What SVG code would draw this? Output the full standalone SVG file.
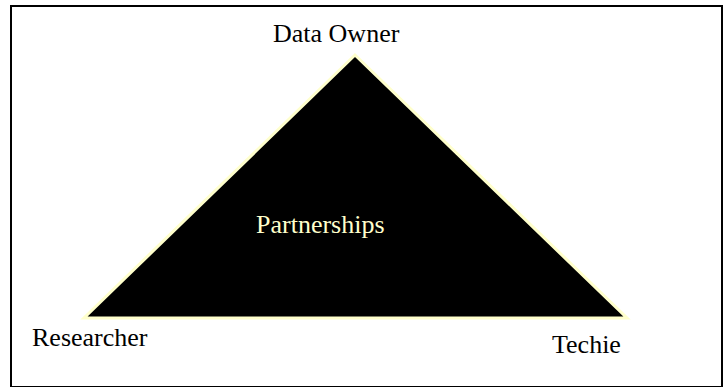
<svg xmlns="http://www.w3.org/2000/svg" width="724" height="387" viewBox="0 0 724 387">
  <style>
    .lbl { font-family: "Liberation Serif", "Times New Roman", serif; font-size: 26px; fill: #000; }
    .inner { fill: #FFFFCC; }
    .tri { fill: #000; stroke: #FFFFCC; stroke-width: 3; stroke-linejoin: miter; }
  </style>
  <rect x="0" y="0" width="724" height="387" fill="#fff"/>
  <!-- frame -->
  <rect x="11" y="6" width="711" height="381" fill="none" stroke="#000" stroke-width="2"/>
  <g id="triangle">
    <polygon class="tri" points="355,55 84,318 627,318"/>
    <text class="lbl inner" x="256" y="233">Partnerships</text>
  </g>
  <g id="data-owner">
    <text class="lbl" x="273" y="42">Data Owner</text>
  </g>
  <g id="researcher">
    <text class="lbl" x="32" y="346">Researcher</text>
  </g>
  <g id="techie">
    <text class="lbl" x="552" y="353">Techie</text>
  </g>
  <g id="connectors"></g>
</svg>
